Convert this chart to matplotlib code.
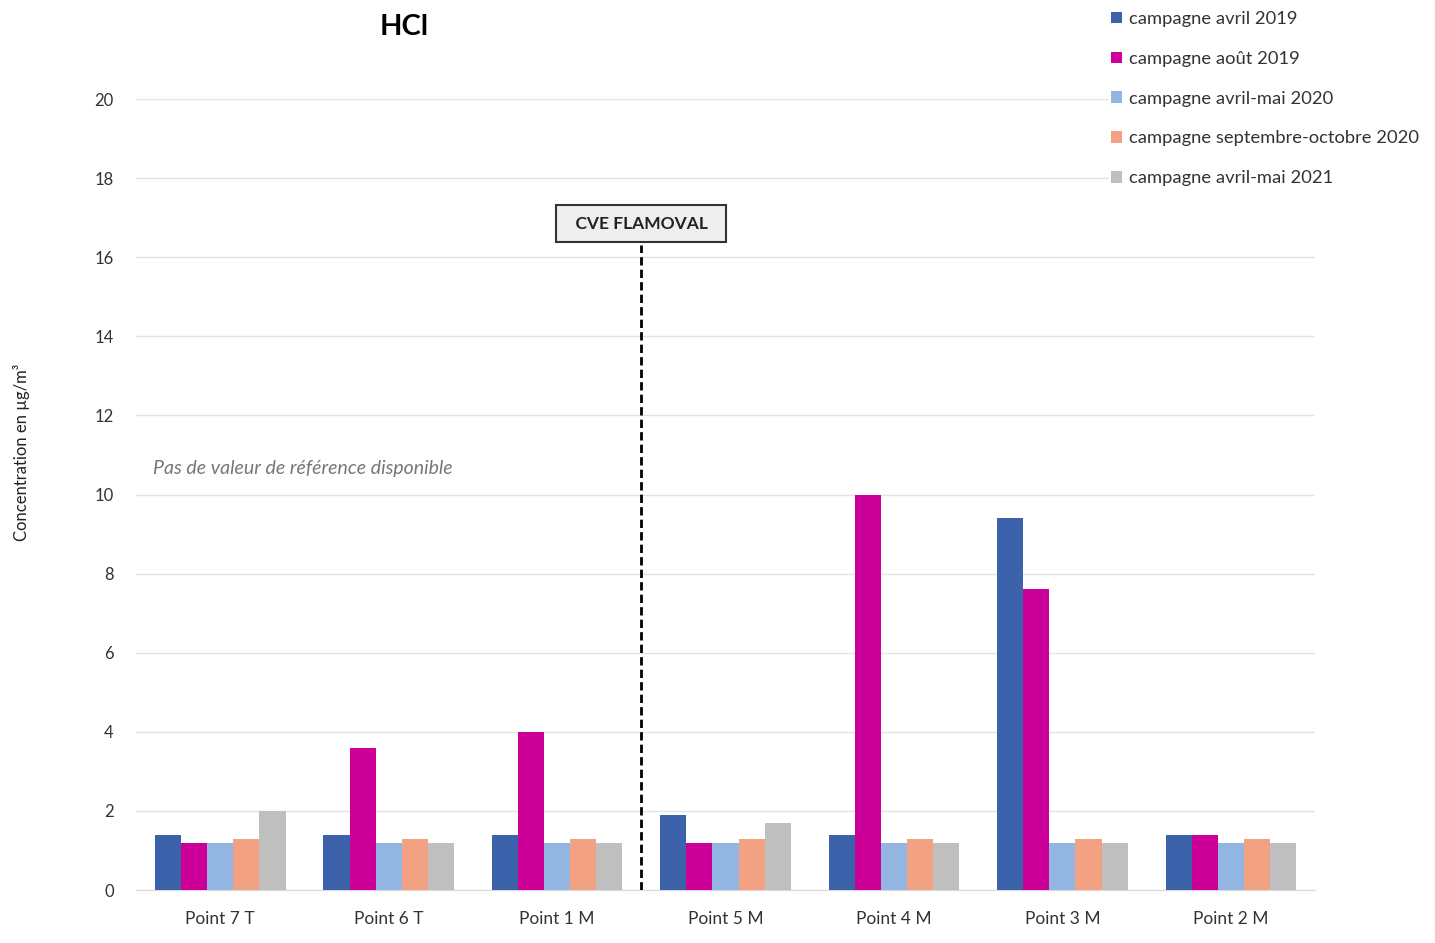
import numpy as np
import matplotlib.pyplot as plt
from matplotlib.patches import Patch

plt.rcParams['font.family'] = ['Lato', 'DejaVu Sans']

# Data
categories = ['Point 7 T', 'Point 6 T', 'Point 1 M', 'Point 5 M', 'Point 4 M', 'Point 3 M', 'Point 2 M']
series_names = ['campagne avril 2019', 'campagne août 2019', 'campagne avril-mai 2020',
                'campagne septembre-octobre 2020', 'campagne avril-mai 2021']
avril_2019 = [1.4, 1.4, 1.4, 1.9, 1.4, 9.4, 1.4]
aout_2019 = [1.2, 3.6, 4.0, 1.2, 10.0, 7.6, 1.4]
avril_mai_2020 = [1.2, 1.2, 1.2, 1.2, 1.2, 1.2, 1.2]
sept_oct_2020 = [1.3, 1.3, 1.3, 1.3, 1.3, 1.3, 1.3]
avril_mai_2021 = [2.0, 1.2, 1.2, 1.7, 1.2, 1.2, 1.2]
colors = ['#3B62AA', '#CC0099', '#93B5E1', '#F2A283', '#BFBFBF']

series = [avril_2019, aout_2019, avril_mai_2020, sept_oct_2020, avril_mai_2021]

fig = plt.figure(figsize=(14.35, 9.43), dpi=100)
ax = fig.add_axes([0.0948, 0.0562, 0.8216, 0.8388])

x = np.arange(len(categories))
width = 0.155
for i, (vals, col) in enumerate(zip(series, colors)):
    ax.bar(x + (i - 2) * width, vals, width, color=col, zorder=3)

ax.set_xlim(-0.5, len(categories) - 0.5)
ax.set_ylim(0, 20)
ax.set_yticks(range(0, 21, 2))
ax.set_xticks(x)
ax.set_xticklabels(categories, fontsize=12.5, color='#333333')
ax.tick_params(axis='y', length=0, labelsize=12, colors='#333333', pad=16)
ax.tick_params(axis='x', length=0, pad=15)
ax.grid(axis='y', color='#E3E3E3', linewidth=1, zorder=0)
for s in ['top', 'right', 'left']:
    ax.spines[s].set_visible(False)
ax.spines['bottom'].set_color('#D9D9D9')

# separator between the two groups of points
ax.plot([2.5, 2.5], [0, 16.3], color='black', linestyle=(0, (3, 1.5)), linewidth=2, zorder=4)
ax.text(2.5, 16.85, '  CVE FLAMOVAL  ', ha='center', va='center', fontsize=12.5, fontweight='bold',
        color='#222222', zorder=5,
        bbox=dict(boxstyle='square,pad=0.6', facecolor='#EEEEEE', edgecolor='#333333', linewidth=1.5))

ax.text(-0.4, 10.65, 'Pas de valeur de référence disponible', fontsize=14, style='italic',
        color='#777777', va='center')

fig.text(404 / 1435, 1 - 27 / 943, 'HCl', fontsize=21, fontweight='bold', ha='center', va='center')
fig.text(22 / 1435, 1 - 452 / 943, 'Concentration en µg/m³', rotation=90, fontsize=12,
         ha='center', va='center', color='#222222')

handles = [Patch(facecolor=c, edgecolor='none') for c in colors]
fig.legend(handles, series_names, loc='upper left', bbox_to_anchor=(1100 / 1435, 1.0),
           frameon=True, facecolor='white', edgecolor='none', framealpha=1, fontsize=13.2,
           handlelength=0.6, handleheight=0.6, handletextpad=0.4, labelspacing=1.3,
           borderpad=0.1, labelcolor='#333333')

fig.savefig('out.png', dpi=100)
